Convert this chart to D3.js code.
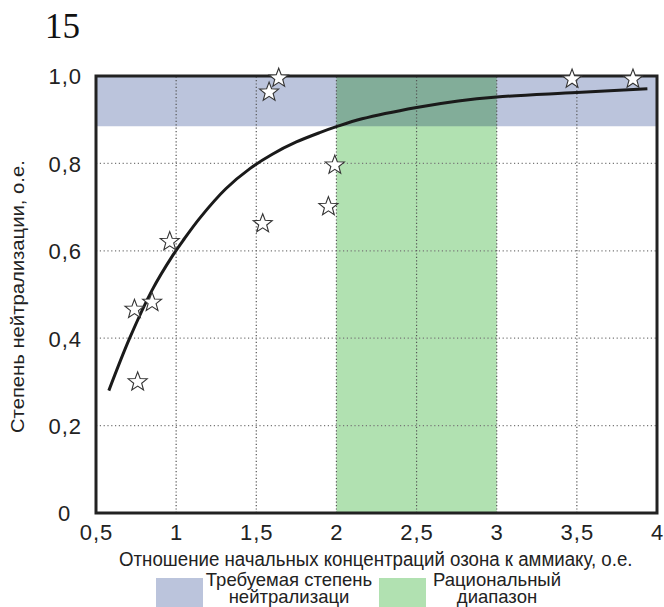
<!DOCTYPE html>
<html>
<head>
<meta charset="utf-8">
<script src="https://cdn.jsdelivr.net/npm/d3@7/dist/d3.min.js"></script>
<style>
  html, body { margin: 0; padding: 0; background: #fff; }
  svg { display: block; }
  text { font-family: "Liberation Sans", Arial, sans-serif; fill: #222; }
</style>
</head>
<body>
<svg id="chart" width="664" height="607"></svg>
<script>
// Fitted neutralisation curve
const curveX = [0.58, 0.71, 0.85, 0.98, 1.05, 1.15, 1.31, 1.46, 1.6, 1.75, 1.9, 2.0, 2.16, 2.5, 2.76, 3.0, 3.5, 3.94];
const curveY = [0.28, 0.40, 0.51, 0.59, 0.627, 0.676, 0.742, 0.788, 0.821, 0.849, 0.871, 0.884, 0.902, 0.928, 0.943, 0.952, 0.962, 0.971];

// Experimental points
const pointX = [0.74, 0.76, 0.85, 0.96, 1.54, 1.58, 1.64, 1.95, 1.99, 3.47, 3.85];
const pointY = [0.466, 0.30, 0.482, 0.621, 0.662, 0.963, 0.995, 0.701, 0.796, 0.993, 0.993];

// Shaded regions
const requiredLevel = [0.885, 1.0];      // required neutralisation degree (y range)
const rationalRange = [2.0, 3.0];        // rational ratio range (x range)

// Ticks
const xTicks = [0.5, 1, 1.5, 2, 2.5, 3, 3.5, 4];
const xTickLabels = ["0,5", "1", "1,5", "2", "2,5", "3", "3,5", "4"];
const yTicks = [0.2, 0.4, 0.6, 0.8, 1.0];
const yTickLabels = ["0,2", "0,4", "0,6", "0,8", "1,0"];
const xGrid = [1, 1.5, 2, 2.5, 3, 3.5];
const yGrid = [0.2, 0.4, 0.6, 0.8];

const legendLabels = [["Требуемая степень", "нейтрализаци"], ["Рациональный", "диапазон"]];
const colBlue = "#bbc4dc", colGreen = "#b1e1b1";

const svg = d3.select("#chart");
const L = 96, R = 657, T = 76, B = 513;
const x = d3.scaleLinear().domain([0.5, 4]).range([L, R]);
const y = d3.scaleLinear().domain([0, 1]).range([B, T]);

// Figure number
svg.append("text").attr("x", 45).attr("y", 38)
  .style("font-family", "'Liberation Serif', 'Times New Roman', serif")
  .style("font-size", "35px").style("fill", "#111").text("15");

// Bands (multiply blend gives the darker overlap)
const bands = svg.append("g").style("isolation", "isolate");
bands.append("rect")
  .attr("x", x(rationalRange[0])).attr("y", y(1))
  .attr("width", x(rationalRange[1]) - x(rationalRange[0]))
  .attr("height", y(0) - y(1))
  .attr("fill", colGreen);
bands.append("rect")
  .attr("x", x(0.5)).attr("y", y(requiredLevel[1]))
  .attr("width", x(4) - x(0.5))
  .attr("height", y(requiredLevel[0]) - y(requiredLevel[1]))
  .attr("fill", colBlue).style("mix-blend-mode", "multiply");

// Grid
svg.append("g").selectAll("line").data(xGrid).join("line")
  .attr("x1", d => x(d)).attr("x2", d => x(d))
  .attr("y1", y(0)).attr("y2", y(1))
  .attr("stroke", "#555").attr("stroke-width", 1.2).attr("stroke-dasharray", "1.2,2.2");
svg.append("g").selectAll("line").data(yGrid).join("line")
  .attr("x1", x(0.5)).attr("x2", x(4))
  .attr("y1", d => y(d)).attr("y2", d => y(d))
  .attr("stroke", "#777").attr("stroke-width", 1.2).attr("stroke-dasharray", "1.2,2.6");

// Curve
const line = d3.line().x(d => x(d[0])).y(d => y(d[1])).curve(d3.curveCatmullRom.alpha(0.5));
svg.append("path").datum(d3.zip(curveX, curveY))
  .attr("d", line).attr("fill", "none")
  .attr("stroke", "#1a1a1a").attr("stroke-width", 3).attr("stroke-linecap", "butt");

// Frame
svg.append("rect").attr("x", L).attr("y", T).attr("width", R - L).attr("height", B - T)
  .attr("fill", "none").attr("stroke", "#222").attr("stroke-width", 3);

// Star markers
function starPath(ro, ri) {
  const pts = [];
  for (let i = 0; i < 10; i++) {
    const a = -Math.PI / 2 + i * Math.PI / 5;
    const r = i % 2 === 0 ? ro : ri;
    pts.push([r * Math.cos(a), r * Math.sin(a)]);
  }
  return "M" + pts.map(p => p[0].toFixed(2) + "," + p[1].toFixed(2)).join("L") + "Z";
}
const star = starPath(10, 4.2);
svg.append("g").selectAll("path").data(d3.zip(pointX, pointY)).join("path")
  .attr("transform", d => `translate(${x(d[0])},${y(d[1])})`)
  .attr("d", star).attr("fill", "#fff")
  .attr("stroke", "#333").attr("stroke-width", 1.1).attr("stroke-linejoin", "miter");

// X axis labels
const xAxis = d3.axisBottom(x).tickValues(xTicks)
  .tickFormat((d, i) => xTickLabels[i]).tickSize(0).tickPadding(0);
const gx = svg.append("g").attr("transform", `translate(0,${B})`).call(xAxis);
gx.select(".domain").remove();
gx.selectAll("text").attr("dy", null).attr("y", 27)
  .style("font-size", "22px").style("letter-spacing", "1px")
  .style("font-family", "'Liberation Sans', Arial, sans-serif").attr("fill", "#222");

// Y axis labels
const yAxis = d3.axisLeft(y).tickValues(yTicks)
  .tickFormat((d, i) => yTickLabels[i]).tickSize(0).tickPadding(14);
const gy = svg.append("g").attr("transform", `translate(${L},0)`).call(yAxis);
gy.select(".domain").remove();
gy.selectAll("text").attr("dy", "0.36em")
  .style("font-size", "22px").style("letter-spacing", "1px")
  .style("font-family", "'Liberation Sans', Arial, sans-serif").attr("fill", "#222");
svg.append("text").attr("x", 64).attr("y", y(0)).attr("dy", "0.36em")
  .attr("text-anchor", "middle").style("font-size", "22px").text("0");

// Condensed axis titles: text is squeezed horizontally to a target width
function condensedText(parent, str, size, width, tx, ty, angle) {
  const g = parent.append("g").attr("transform", `translate(${tx},${ty}) rotate(${angle})`);
  const t = g.append("text").style("font-size", size + "px").text(str);
  const w = t.node().getComputedTextLength();
  t.attr("transform", `scale(${width / w},1)`);
  return g;
}
condensedText(svg, "Отношение начальных концентраций озона к аммиаку, о.е.", 21, 514, 119, 566, 0);
condensedText(svg, "Степень нейтрализации, о.е.", 18, 273, 24, 433, -90);

// Legend
const legend = [
  { color: colBlue, rx: 156, tx: 289, lines: legendLabels[0] },
  { color: colGreen, rx: 379, tx: 497, lines: legendLabels[1] }
];
const lg = svg.append("g").selectAll("g").data(legend).join("g");
lg.append("rect").attr("x", d => d.rx).attr("y", 578).attr("width", 47).attr("height", 29)
  .attr("fill", d => d.color);
lg.append("text").attr("text-anchor", "middle").style("font-size", "18.5px")
  .selectAll("tspan").data(d => d.lines.map((t, i) => ({ t, i, x: d.tx }))).join("tspan")
  .attr("x", d => d.x).attr("y", d => 586 + d.i * 17).text(d => d.t);
</script>
</body>
</html>
